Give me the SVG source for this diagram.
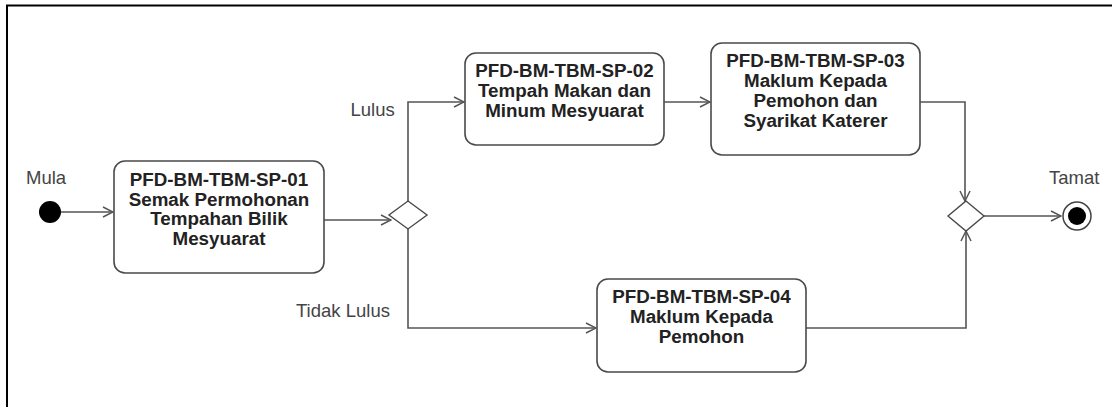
<svg xmlns="http://www.w3.org/2000/svg" width="1112" height="407" viewBox="0 0 1112 407">
  <style>
    .box { fill: #ffffff; stroke: #4a4a4a; stroke-width: 1.6; }
    .dia { fill: #ffffff; stroke: #4a4a4a; stroke-width: 1.4; }
    .t { font-family: "Liberation Sans", Arial, sans-serif; font-size: 18.8px; font-weight: bold; fill: #222222; text-anchor: middle; }
    .lbl { font-family: "Liberation Sans", Arial, sans-serif; font-size: 18.5px; fill: #444444; }
    .edge { fill: none; stroke: #555555; stroke-width: 1.6; marker-end: url(#arr); }
    .frame { stroke: #000000; stroke-width: 2; fill: none; }
  </style>
  <defs>
    <marker id="arr" viewBox="0 0 12 12" refX="11" refY="6" markerWidth="12" markerHeight="12" markerUnits="userSpaceOnUse" orient="auto">
      <path d="M1,1 L11,6 L1,11" fill="none" stroke="#555555" stroke-width="1.5"/>
    </marker>
  </defs>
  <rect width="1112" height="407" fill="#ffffff"/>
  <path class="frame" d="M7,407 L7,5.5 L1112,5.5"/>

  <g id="connectors">
    <line class="edge" x1="61" y1="212" x2="113" y2="212"/>
    <line class="edge" x1="324" y1="220" x2="391" y2="220"/>
    <polyline class="edge" points="408,201 408,102 464,102"/>
    <polyline class="edge" points="408,229 408,328 596,328"/>
    <line class="edge" x1="664" y1="102" x2="710" y2="102"/>
    <polyline class="edge" points="920,102 965,102 965,201"/>
    <polyline class="edge" points="806,328 966,328 966,231"/>
    <line class="edge" x1="983" y1="216" x2="1061" y2="216"/>
  </g>

  <g id="start">
    <circle cx="50" cy="212" r="11" fill="#000000"/>
    <text class="lbl" x="26" y="184">Mula</text>
  </g>

  <g id="sp01">
    <rect class="box" x="114" y="161" width="210" height="112" rx="11"/>
    <text class="t" x="219" y="185.7">PFD-BM-TBM-SP-01</text>
    <text class="t" x="219" y="205.5">Semak Permohonan</text>
    <text class="t" x="219" y="225.3">Tempahan Bilik</text>
    <text class="t" x="219" y="245">Mesyuarat</text>
  </g>

  <g id="decision">
    <polygon class="dia" points="408,201 427,215 408,229 389,215"/>
  </g>

  <g id="label-lulus">
    <text class="lbl" x="350.5" y="115.7">Lulus</text>
  </g>
  <g id="label-tidak-lulus">
    <text class="lbl" x="296" y="316.7">Tidak Lulus</text>
  </g>

  <g id="sp02">
    <rect class="box" x="465" y="53" width="199" height="92" rx="11"/>
    <text class="t" x="564.5" y="77.3">PFD-BM-TBM-SP-02</text>
    <text class="t" x="564.5" y="97">Tempah Makan dan</text>
    <text class="t" x="564.5" y="116.7">Minum Mesyuarat</text>
  </g>

  <g id="sp03">
    <rect class="box" x="711" y="43" width="209" height="112" rx="11"/>
    <text class="t" x="815.5" y="67.3">PFD-BM-TBM-SP-03</text>
    <text class="t" x="815.5" y="87">Maklum Kepada</text>
    <text class="t" x="815.5" y="106.8">Pemohon dan</text>
    <text class="t" x="815.5" y="126.6">Syarikat Katerer</text>
  </g>

  <g id="sp04">
    <rect class="box" x="597" y="279" width="209" height="93" rx="11"/>
    <text class="t" x="701.5" y="303.3">PFD-BM-TBM-SP-04</text>
    <text class="t" x="701.5" y="323">Maklum Kepada</text>
    <text class="t" x="701.5" y="342.7">Pemohon</text>
  </g>

  <g id="merge">
    <polygon class="dia" points="966,201 984,216 966,231 948,216"/>
  </g>

  <g id="end">
    <circle cx="1077" cy="216" r="14" fill="#ffffff" stroke="#444444" stroke-width="1.5"/>
    <circle cx="1077" cy="216" r="9" fill="#000000"/>
    <text class="lbl" x="1049" y="184">Tamat</text>
  </g>
</svg>
